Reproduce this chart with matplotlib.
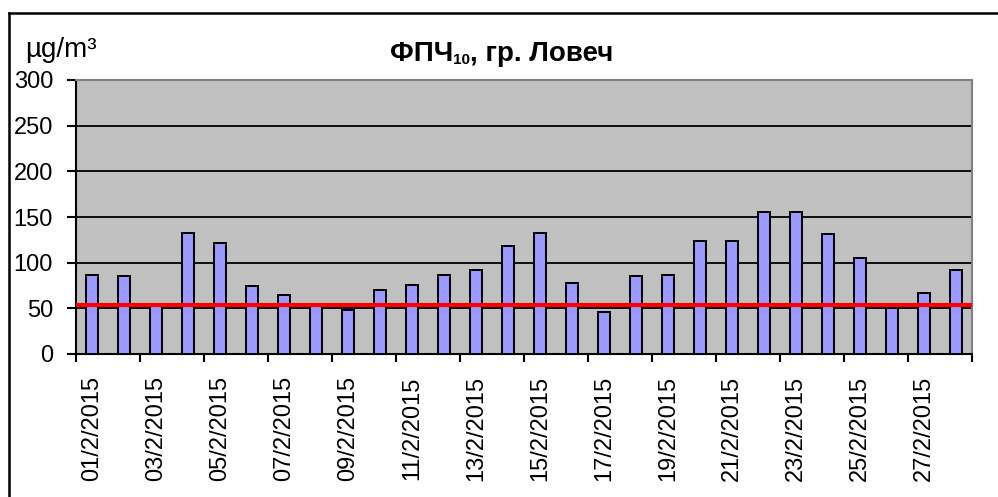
import matplotlib
matplotlib.use("Agg")
import matplotlib.pyplot as plt
from matplotlib.lines import Line2D

plt.rcParams['font.family'] = ['Liberation Sans', 'DejaVu Sans']

# daily PM10 values, Lovech, February 2015
days = [f"{d:02d}/2/2015" for d in range(1, 29)]
pm10 = [87, 85, 54, 133, 122, 74, 65, 54, 48, 70, 76, 87, 92, 118,
        133, 78, 46, 85, 87, 124, 124, 155, 155, 131, 105, 50, 67, 92]
limit = 54
yticks = [0, 50, 100, 150, 200, 250, 300]

W, H = 998, 497
fig = plt.figure(figsize=(W / 100, H / 100), dpi=100)
ax = fig.add_axes([76 / W, 1 - 354 / H, (972 - 76) / W, (354 - 80) / H])
ax.set_facecolor('#C0C0C0')

x = list(range(len(pm10)))
ax.bar(x, pm10, width=0.4, color='#9999FF', edgecolor='black',
       linewidth=1.4, zorder=3)
ax.axhline(limit, color='#FF0000', linewidth=3, zorder=4)

ax.set_xlim(-0.5, len(pm10) - 0.5)
ax.set_ylim(0, 300)
ax.set_yticks(yticks)
ax.yaxis.grid(True, color='black', linewidth=1.3, zorder=1)
ax.set_axisbelow(True)

# labels on every second day, ticks at the category boundaries
ax.set_xticks(x[::2])
ax.set_xticklabels(days[::2], rotation=90, fontsize=17)
ax.set_xticks([i - 0.5 for i in range(0, len(pm10) + 1, 2)], minor=True)
ax.tick_params(axis='x', which='major', length=0, pad=16)
ax.tick_params(axis='x', which='minor', length=6, width=1.5, color='black')
ax.tick_params(axis='y', length=6.5, width=1.5, pad=10, labelsize=17)

for s in ['left', 'bottom']:
    ax.spines[s].set_color('black')
    ax.spines[s].set_linewidth(1.5)
for s in ['top', 'right']:
    ax.spines[s].set_color('#808080')
    ax.spines[s].set_linewidth(1.5)

# chart frame (cut off at right and bottom)
fig.add_artist(Line2D([8.5 / W, 8.5 / W], [0, 1 - 13 / H], color='black', linewidth=1.8))
fig.add_artist(Line2D([8.5 / W, 1], [1 - 13 / H, 1 - 13 / H], color='black', linewidth=1.8))

fig.text(25 / W, 1 - 57 / H, 'µg/m³', fontsize=20, va='baseline', ha='left')

t1 = fig.text(390 / W, 1 - 61 / H, 'ФПЧ', fontsize=20, fontweight='bold',
              va='baseline', ha='left')
t2 = ax.annotate('10', xy=(1, 0), xycoords=t1, fontsize=11, fontweight='bold',
                 va='bottom', ha='left')
ax.annotate(', гр. Ловеч', xy=(1, 0), xycoords=(t2, t1), fontsize=20,
            fontweight='bold', va='bottom', ha='left')

fig.savefig('out.png', dpi=100)
